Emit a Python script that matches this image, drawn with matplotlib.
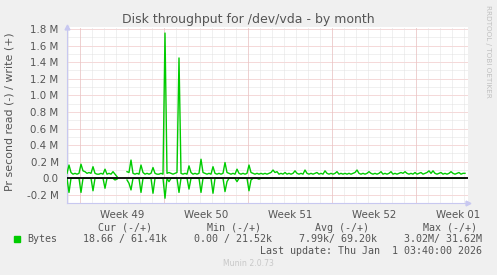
import matplotlib
matplotlib.use("Agg")
import matplotlib.pyplot as plt
import numpy as np
from matplotlib.ticker import MultipleLocator, FuncFormatter

# samples every 4 hours, time in days since the start of week 49
start_day = -13 / 12.0
step_day = 1 / 6.0

# write (+), in M per second
write_m = [
    0.06, 0.16, 0.07, 0.05, 0.06, 0.05, 0.06, 0.17, 0.09, 0.08,
    0.06, 0.07, 0.06, 0.14, 0.06, 0.05, 0.05, 0.06, 0.05, 0.11,
    0.05, 0.06, 0.05, 0.08, 0.05, 0.02, np.nan, np.nan, np.nan, np.nan,
    0.08, 0.07, 0.22, 0.06, 0.05, 0.06, 0.05, 0.16, 0.07, 0.05,
    0.06, 0.05, 0.06, 0.13, 0.06, 0.05, 0.05, 0.06, 0.05, 1.75,
    0.06, 0.07, 0.06, 0.05, 0.06, 0.07, 1.45, 0.06, 0.05, 0.06,
    0.05, 0.15, 0.07, 0.05, 0.06, 0.05, 0.06, 0.23, 0.07, 0.06,
    0.05, 0.06, 0.05, 0.14, 0.06, 0.05, 0.06, 0.05, 0.06, 0.19,
    0.07, 0.06, 0.05, 0.06, 0.05, 0.11, 0.06, 0.05, 0.06, 0.05,
    0.06, 0.16, 0.07, 0.06, 0.05, 0.06, 0.05, 0.06, 0.05, 0.06,
    0.05, 0.06, 0.07, 0.10, 0.07, 0.08, 0.05, 0.06, 0.05, 0.07,
    0.05, 0.06, 0.05, 0.06, 0.09, 0.06, 0.05, 0.06, 0.05, 0.10,
    0.06, 0.05, 0.06, 0.05, 0.06, 0.07, 0.05, 0.06, 0.05, 0.09,
    0.06, 0.05, 0.06, 0.05, 0.06, 0.08, 0.05, 0.06, 0.05, 0.06,
    0.05, 0.06, 0.05, 0.06, 0.07, 0.10, 0.06, 0.05, 0.06, 0.05,
    0.06, 0.08, 0.06, 0.05, 0.06, 0.05, 0.06, 0.08, 0.05, 0.06,
    0.05, 0.06, 0.08, 0.05, 0.06, 0.05, 0.06, 0.07, 0.06, 0.08,
    0.06, 0.05, 0.06, 0.05, 0.07, 0.05, 0.06, 0.07, 0.05, 0.06,
    0.07, 0.09, 0.06, 0.09, 0.06, 0.05, 0.06, 0.07, 0.05, 0.06,
    0.05, 0.06, 0.08, 0.06, 0.05, 0.06, 0.07, 0.05, 0.06, 0.06,
]

# read (-), in M per second (drawn below zero)
read_m = [
    0.00, 0.17, 0.00, 0.00, 0.00, 0.00, 0.00, 0.17, 0.00, 0.00,
    0.00, 0.00, 0.00, 0.15, 0.00, 0.00, 0.00, 0.00, 0.00, 0.12,
    0.00, 0.00, 0.00, 0.00, 0.02, 0.01, np.nan, np.nan, np.nan, np.nan,
    0.02, 0.06, 0.14, 0.00, 0.00, 0.00, 0.00, 0.17, 0.00, 0.00,
    0.00, 0.00, 0.00, 0.18, 0.00, 0.00, 0.00, 0.00, 0.00, 0.24,
    0.00, 0.04, 0.00, 0.00, 0.00, 0.00, 0.17, 0.00, 0.00, 0.00,
    0.00, 0.13, 0.00, 0.00, 0.00, 0.00, 0.00, 0.17, 0.00, 0.00,
    0.00, 0.00, 0.00, 0.18, 0.00, 0.00, 0.00, 0.00, 0.00, 0.16,
    0.04, 0.00, 0.00, 0.00, 0.00, 0.04, 0.00, 0.00, 0.00, 0.00,
    0.00, 0.15, 0.02, 0.00, 0.00, 0.00, 0.01, 0.00, 0.00, 0.00,
] + [0.0] * 100

week_labels = ["Week 49", "Week 50", "Week 51", "Week 52", "Week 01"]
week_starts = [0, 7, 14, 21, 28]

legend_head = ["Cur (-/+)", "Min (-/+)", "Avg (-/+)", "Max (-/+)"]
legend_vals = ["18.66 / 61.41k", "0.00 / 21.52k", "7.99k/ 69.20k", "3.02M/ 31.62M"]

W, H = 497, 275
fig = plt.figure(figsize=(W / 100, H / 100), dpi=100, facecolor="#F0F0F0")
ax = fig.add_axes([67 / W, 1 - 203.3 / H, (468 - 67) / W, (203.3 - 27) / H])
ax.set_facecolor("white")

t = start_day + np.arange(len(write_m)) * step_day
w = np.array(write_m)
r = -np.array(read_m)

xmin, xmax = (67 - 80) / 12, (468 - 80) / 12
ax.set_xlim(xmin, xmax)
ax.set_ylim(-0.301, 1.823)

dot = (0, (1, 1))
minor_c = "#E2E2E2"
major_c = "#EDB4B4"
# vertical grid: days gray, weeks red
for d in range(-1, 33):
    ax.axvline(d, color=minor_c, lw=0.72, ls=dot, zorder=1)
for d in week_starts:
    ax.axvline(d, color=major_c, lw=0.72, ls=dot, zorder=1.5)
ax.yaxis.set_major_locator(MultipleLocator(0.2))
ax.yaxis.set_minor_locator(MultipleLocator(0.1))
ax.grid(which="minor", axis="y", color=minor_c, lw=0.72, ls=dot, zorder=1)
ax.grid(which="major", axis="y", color=major_c, lw=0.72, ls=dot, zorder=1.5)
ax.set_axisbelow(True)

def fmt(v, pos):
    if abs(v) < 1e-9:
        return "0.0"
    return "%.1f M" % v
ax.yaxis.set_major_formatter(FuncFormatter(fmt))

ax.set_xticks([s + 3.5 for s in week_starts])
ax.set_xticklabels(week_labels)

txt = "#555555"
ax.tick_params(axis="both", which="both", length=0, labelsize=7.4, colors=txt)
ax.tick_params(axis="x", pad=5)
ax.tick_params(axis="y", pad=6)

ax.plot(t, w, color="#00CC00", lw=1.0, zorder=3)
ax.plot(t, r, color="#00CC00", lw=1.0, zorder=3)
ax.axhline(0, color="black", lw=1.3, zorder=4)

for s in ["top", "right"]:
    ax.spines[s].set_visible(False)
for s in ["left", "bottom"]:
    ax.spines[s].set_color("#C8C8F0")
    ax.spines[s].set_linewidth(0.8)
ax.plot(1.0, 0, ">", color="#C8C8F0", ms=3.5, transform=ax.transAxes, clip_on=False)
ax.plot(0, 1.0, "^", color="#C8C8F0", ms=3.5, transform=ax.transAxes, clip_on=False)

fig.text(248 / W, 1 - 19 / H, "Disk throughput for /dev/vda - by month",
         ha="center", va="center", fontsize=9.0, color=txt)
fig.text(10 / W, 1 - 112 / H, "Pr second read (-) / write (+)", rotation=90,
         ha="center", va="center", fontsize=7.9, color=txt)
fig.text(488 / W, 1 - 5 / H, "RRDTOOL / TOBI OETIKER", rotation=270,
         ha="center", va="top", fontsize=5.2, color="#C0C0C0")

mono = "DejaVu Sans Mono"
for x, s in zip([98, 207, 315, 423], legend_head):
    fig.text(x / W, 1 - 227.7 / H, s, family=mono, fontsize=7.2, color=txt,
             ha="left", va="center")
fig.patches.append(plt.Rectangle((14 / W, 1 - 242 / H), 6 / W, 6 / H,
                                 transform=fig.transFigure, color="#00CC00"))
fig.text(27 / W, 1 - 239.3 / H, "Bytes", family=mono, fontsize=7.2, color=txt,
         ha="left", va="center")
for x, s in zip([83, 194, 299, 404], legend_vals):
    fig.text(x / W, 1 - 239.3 / H, s, family=mono, fontsize=7.2, color=txt,
             ha="left", va="center")
fig.text(482 / W, 1 - 251 / H, "Last update: Thu Jan  1 03:40:00 2026", family=mono,
         fontsize=7.2, color=txt, ha="right", va="center")
fig.text(248 / W, 1 - 264 / H, "Munin 2.0.73", fontsize=5.6, color="#C8C8C8",
         ha="center", va="center")

fig.savefig("out.png", dpi=100, facecolor=fig.get_facecolor())
